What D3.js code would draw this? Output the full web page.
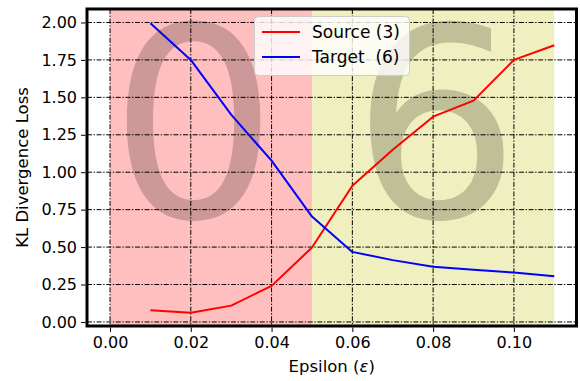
<!DOCTYPE html>
<html>
<head>
<meta charset="utf-8">
<script src="https://cdn.jsdelivr.net/npm/d3@7"></script>
<style>
  html, body { margin: 0; padding: 0; background: #fff; }
  svg { display: block; font-family: "DejaVu Sans", sans-serif; }
</style>
</head>
<body>
<svg id="chart" width="580" height="381"></svg>
<script>
// Perturbation strength on the x axis
const epsilon = [0.01, 0.02, 0.03, 0.04, 0.05, 0.06, 0.07, 0.08, 0.09, 0.10, 0.11];
// KL divergence towards the source class and the target class
const sourceLoss = [0.078, 0.062, 0.109, 0.241, 0.497, 0.91, 1.15, 1.371, 1.478, 1.75, 1.848];
const targetLoss = [1.995, 1.75, 1.385, 1.077, 0.704, 0.468, 0.413, 0.368, 0.348, 0.33, 0.306];

const seriesNames = ["Source (3)", "Target  (6)"];
const seriesColors = ["#ff0000", "#0000ff"];

// Shaded regions: which class the model predicts
const regionStart = [0.0, 0.05];
const regionEnd = [0.05, 0.11];
const regionColors = ["#ffbfbf", "#efefbf"];
const regionDigits = ["0", "6"];
const digitX = [0.0207, 0.0807];
const digitY = 0.70;

const xTicks = [0.00, 0.02, 0.04, 0.06, 0.08, 0.10];
const yTicks = [0.00, 0.25, 0.50, 0.75, 1.00, 1.25, 1.50, 1.75, 2.00];

const svg = d3.select("#chart");
const plotLeft = 87, plotRight = 576.5, plotTop = 9, plotBottom = 326;

const x = d3.scaleLinear().domain([-0.0057, 0.1155]).range([plotLeft, plotRight]);
const y = d3.scaleLinear().domain([-0.027, 2.09]).range([plotBottom, plotTop]);

const plot = svg.append("g");

// background regions
plot.selectAll("rect.region")
  .data(regionStart)
  .join("rect")
  .attr("class", "region")
  .attr("x", (d) => x(d))
  .attr("y", plotTop)
  .attr("width", (d, i) => x(regionEnd[i]) - x(d))
  .attr("height", plotBottom - plotTop)
  .attr("fill", (d, i) => regionColors[i]);

// large predicted-class digits
plot.selectAll("text.digit")
  .data(regionDigits)
  .join("text")
  .attr("class", "digit")
  .attr("x", (d, i) => x(digitX[i]))
  .attr("y", y(digitY))
  .attr("text-anchor", "middle")
  .attr("font-size", 265)
  .attr("fill", "#000")
  .attr("fill-opacity", 0.2)
  .text((d) => d);

// dash-dot grid
const gridDash = "5,1.6,1.4,1.6";
plot.selectAll("line.xgrid")
  .data(xTicks)
  .join("line")
  .attr("class", "xgrid")
  .attr("x1", (d) => x(d)).attr("x2", (d) => x(d))
  .attr("y1", plotTop).attr("y2", plotBottom)
  .attr("stroke", "#000").attr("stroke-width", 1)
  .attr("stroke-dasharray", gridDash);
plot.selectAll("line.ygrid")
  .data(yTicks)
  .join("line")
  .attr("class", "ygrid")
  .attr("x1", plotLeft).attr("x2", plotRight)
  .attr("y1", (d) => y(d)).attr("y2", (d) => y(d))
  .attr("stroke", "#000").attr("stroke-width", 1)
  .attr("stroke-dasharray", gridDash);

// loss curves
const line = d3.line().x((d, i) => x(epsilon[i])).y((d) => y(d));
[sourceLoss, targetLoss].forEach((vals, k) => {
  plot.append("path")
    .datum(vals)
    .attr("d", line)
    .attr("fill", "none")
    .attr("stroke", seriesColors[k])
    .attr("stroke-width", 2)
    .attr("stroke-linejoin", "round");
});

// axes
const xAxis = d3.axisBottom(x).tickValues(xTicks).tickFormat(d3.format(".2f"))
  .tickSizeOuter(0).tickSizeInner(5).tickPadding(5);
const yAxis = d3.axisLeft(y).tickValues(yTicks).tickFormat(d3.format(".2f"))
  .tickSizeOuter(0).tickSizeInner(5).tickPadding(5);

const gx = svg.append("g").attr("transform", `translate(0,${plotBottom})`).call(xAxis);
const gy = svg.append("g").attr("transform", `translate(${plotLeft},0)`).call(yAxis);
[gx, gy].forEach((g) => {
  g.select(".domain").remove();
  g.selectAll(".tick line").attr("stroke", "#000").attr("stroke-width", 1);
  g.selectAll(".tick text").attr("fill", "#000").attr("font-size", 16)
    .attr("font-family", "DejaVu Sans");
});
gx.selectAll(".tick text").attr("dy", "0.76em");
gx.selectAll(".tick line").attr("y1", 1.5).attr("y2", 6);
gy.selectAll(".tick line").attr("x1", -1.5).attr("x2", -6);

// frame
svg.append("rect")
  .attr("x", plotLeft).attr("y", plotTop)
  .attr("width", plotRight - plotLeft).attr("height", plotBottom - plotTop)
  .attr("fill", "none").attr("stroke", "#000").attr("stroke-width", 3);

// axis titles
const xlab = svg.append("text")
  .attr("x", (plotLeft + plotRight) / 2).attr("y", 372)
  .attr("text-anchor", "middle").attr("font-size", 16.5).attr("fill", "#000");
xlab.append("tspan").text("Epsilon (");
xlab.append("tspan").attr("font-style", "italic").text("ε");
xlab.append("tspan").text(")");

svg.append("text")
  .attr("transform", `translate(28,${(plotTop + plotBottom) / 2}) rotate(-90)`)
  .attr("text-anchor", "middle").attr("font-size", 16.5).attr("fill", "#000")
  .text("KL Divergence Loss");

// legend
const lg = svg.append("g").attr("transform", "translate(254,16)");
lg.append("rect")
  .attr("x", 0.5).attr("y", 0.5).attr("width", 155).attr("height", 59)
  .attr("rx", 4).attr("ry", 4)
  .attr("fill", "#fff").attr("fill-opacity", 0.8)
  .attr("stroke", "#cccccc").attr("stroke-width", 1);
seriesNames.forEach((name, i) => {
  const cy = 16 + i * 25;
  lg.append("line")
    .attr("x1", 8).attr("x2", 46).attr("y1", cy).attr("y2", cy)
    .attr("stroke", seriesColors[i]).attr("stroke-width", 2);
  lg.append("text")
    .attr("x", 58).attr("y", cy + 6)
    .attr("font-size", 17).attr("fill", "#000")
    .style("white-space", "pre")
    .text(name);
});
</script>
</body>
</html>
